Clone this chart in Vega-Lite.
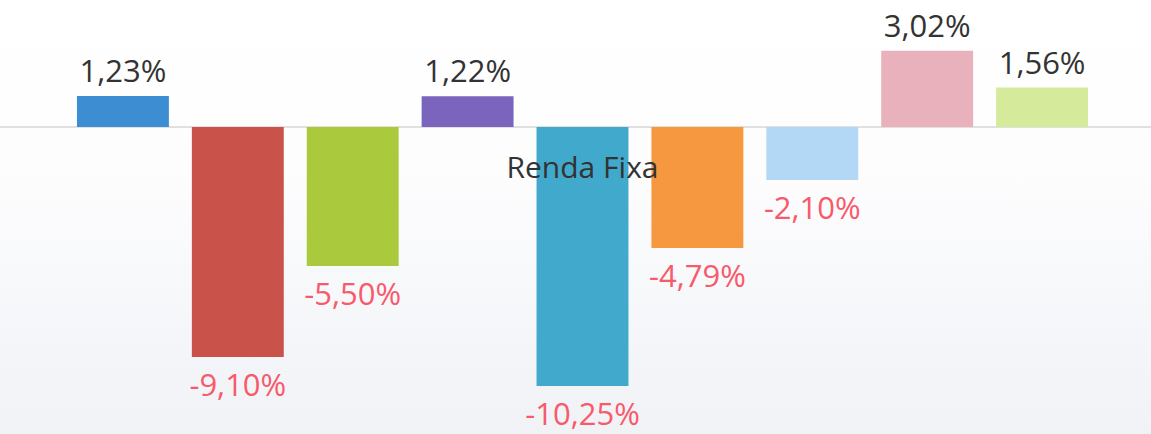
{
  "$schema": "https://vega.github.io/schema/vega-lite/v6.json",
  "width": 1151,
  "height": 434,
  "autosize": "none",
  "padding": 0,
  "background": "#ffffff",
  "config": {
    "font": "Open Sans",
    "view": {
      "stroke": null,
      "fill": {
        "gradient": "linear",
        "x1": 0, "y1": 0, "x2": 0, "y2": 1,
        "stops": [
          {"offset": 0, "color": "#ffffff"},
          {"offset": 0.4, "color": "#fdfdfe"},
          {"offset": 1, "color": "#f0f2f6"}
        ]
      }
    },
    "locale": {
      "number": {"decimal": ",", "thousands": ".", "grouping": [3], "currency": ["R$", ""], "minus": "-"}
    }
  },
  "data": {
    "values": [
      {"grupo": "Renda Fixa", "serie": "Série 1", "retorno": 0.0123},
      {"grupo": "Renda Fixa", "serie": "Série 2", "retorno": -0.091},
      {"grupo": "Renda Fixa", "serie": "Série 3", "retorno": -0.055},
      {"grupo": "Renda Fixa", "serie": "Série 4", "retorno": 0.0122},
      {"grupo": "Renda Fixa", "serie": "Série 5", "retorno": -0.1025},
      {"grupo": "Renda Fixa", "serie": "Série 6", "retorno": -0.0479},
      {"grupo": "Renda Fixa", "serie": "Série 7", "retorno": -0.021},
      {"grupo": "Renda Fixa", "serie": "Série 8", "retorno": 0.0302},
      {"grupo": "Renda Fixa", "serie": "Série 9", "retorno": 0.0156}
    ]
  },
  "encoding": {
    "x": {
      "field": "grupo",
      "type": "nominal",
      "scale": {"paddingInner": 0, "paddingOuter": 0},
      "axis": {
        "title": null,
        "orient": "bottom",
        "offset": -257,
        "zindex": 2,
        "domain": false,
        "ticks": false,
        "tickSize": 0,
        "labelPadding": 0,
        "labelBaseline": "alphabetic",
        "labelFontSize": 30,
        "labelColor": "#333333",
        "labelFont": "Open Sans",
        "labelOffset": 7,
        "labelAngle": 0,
        "grid": false
      }
    },
    "xOffset": {
      "field": "serie",
      "type": "nominal",
      "sort": null,
      "scale": {"paddingInner": 0.2, "paddingOuter": 0.609, "align": 0.55}
    }
  },
  "layer": [
    {
      "mark": {"type": "rule", "color": "#e0e0e0", "strokeWidth": 1},
      "encoding": {
        "x": null,
        "xOffset": null,
        "y": {"datum": 0, "type": "quantitative", "scale": {"domain": [-0.12149, 0.05026], "nice": false, "zero": false}, "axis": null}
      }
    },
    {
      "mark": {"type": "bar"},
      "encoding": {
        "y": {"field": "retorno", "type": "quantitative", "scale": {"domain": [-0.12149, 0.05026], "nice": false, "zero": false}, "axis": null},
        "color": {
          "field": "serie",
          "type": "nominal",
          "sort": null,
          "legend": null,
          "scale": {"range": ["#3c8dd2", "#c9524a", "#abc93c", "#7a64bd", "#41a9cc", "#f5983f", "#b3d8f5", "#e9b1bb", "#d5eb9b"]}
        }
      }
    },
    {
      "transform": [{"filter": "datum.retorno >= 0"}],
      "mark": {"type": "text", "baseline": "alphabetic", "align": "center", "dy": -14, "fontSize": 31, "color": "#333333"},
      "encoding": {
        "y": {"field": "retorno", "type": "quantitative", "scale": {"domain": [-0.12149, 0.05026], "nice": false, "zero": false}, "axis": null},
        "text": {"field": "retorno", "type": "quantitative", "format": ".2%"}
      }
    },
    {
      "transform": [{"filter": "datum.retorno < 0"}],
      "mark": {"type": "text", "baseline": "alphabetic", "align": "center", "dy": 39, "fontSize": 31, "color": "#f75b6b"},
      "encoding": {
        "y": {"field": "retorno", "type": "quantitative", "scale": {"domain": [-0.12149, 0.05026], "nice": false, "zero": false}, "axis": null},
        "text": {"field": "retorno", "type": "quantitative", "format": ".2%"}
      }
    }
  ]
}
